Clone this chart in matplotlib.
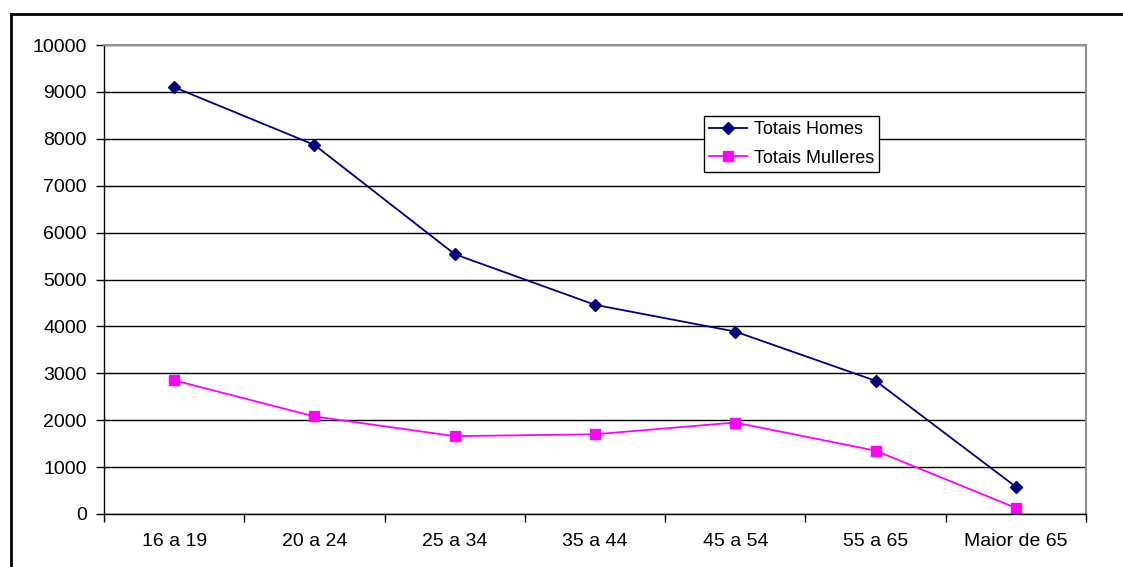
import numpy as np
import matplotlib.pyplot as plt
from matplotlib.lines import Line2D

plt.rcParams['font.family'] = ['Liberation Sans', 'DejaVu Sans']

categorias = ['16 a 19', '20 a 24', '25 a 34', '35 a 44', '45 a 54', '55 a 65', 'Maior de 65']
homes = [9100, 7870, 5540, 4460, 3890, 2840, 580]
mulleres = [2850, 2080, 1660, 1700, 1950, 1350, 130]
y_ticks = np.arange(0, 10001, 1000)

fig = plt.figure(figsize=(11.23, 5.67), dpi=100)
ax = fig.add_axes([104 / 1123, 53 / 567, 982 / 1123, 469 / 567])

x = np.arange(len(categorias))
ax.plot(x, homes, color='#000080', lw=1.3, marker='D', markersize=6.5, label='Totais Homes')
ax.plot(x, mulleres, color='#FF00FF', lw=1.3, marker='s', markersize=6.5, label='Totais Mulleres')

ax.set_xlim(-0.5, len(categorias) - 0.5)
ax.set_ylim(0, 10000)
ax.set_yticks(y_ticks)
ax.set_xticks(x)
ax.set_xticklabels(categorias)
ax.set_xticks(np.arange(-0.5, len(categorias)), minor=True)
ax.tick_params(axis='x', which='major', length=0, pad=14, labelsize=14)
ax.tick_params(axis='x', which='minor', length=6, width=1, direction='out')
ax.tick_params(axis='y', length=6, width=1, direction='out', pad=6.5, labelsize=14)
ax.grid(axis='y', color='black', lw=1)
ax.set_axisbelow(True)

for s in ['top', 'right']:
    ax.spines[s].set_color('#909090')
    ax.spines[s].set_linewidth(1.5)
for s in ['left', 'bottom']:
    ax.spines[s].set_color('black')
    ax.spines[s].set_linewidth(1)

leg = ax.legend(loc='upper left', bbox_to_anchor=(600 / 982, 1 - 71 / 469), fontsize=13,
                frameon=True, fancybox=False, edgecolor='black', framealpha=1,
                handlelength=2.1, borderpad=0.3, labelspacing=0.62, handletextpad=0.35,
                borderaxespad=0)
leg.get_frame().set_linewidth(1)

# borde exterior
fig.add_artist(Line2D([11 / 1123, 11 / 1123], [-0.1, 1 - 14 / 567], color='black', lw=2))
fig.add_artist(Line2D([11 / 1123, 1.1], [1 - 14 / 567, 1 - 14 / 567], color='black', lw=2))

plt.savefig('out.png', dpi=100)
